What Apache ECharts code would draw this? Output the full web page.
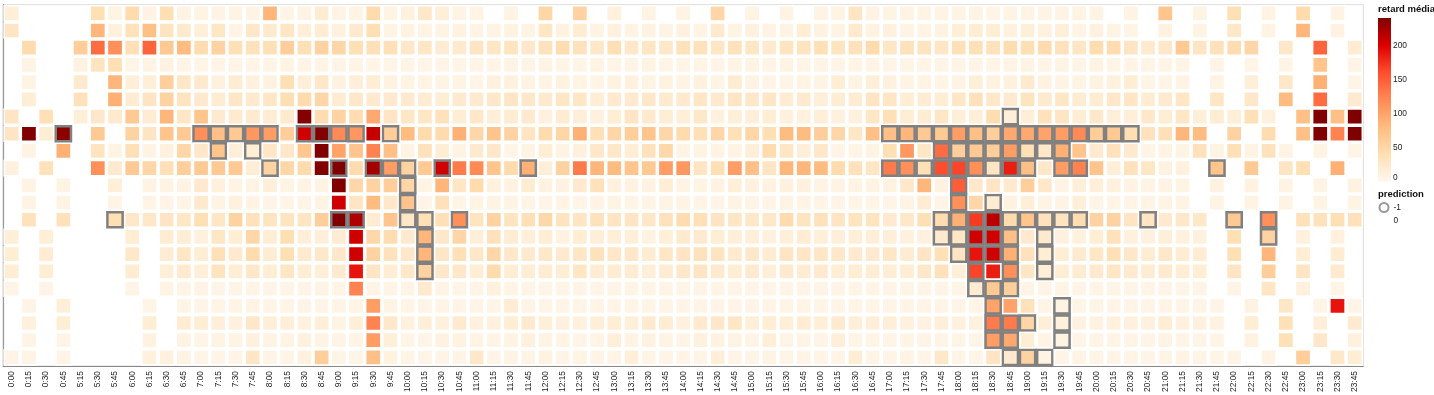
<!DOCTYPE html>
<html><head><meta charset="utf-8"><style>html,body{margin:0;padding:0;background:#fff}#c{width:1434px;height:395px}</style>
<script src="https://cdn.jsdelivr.net/npm/echarts@6/dist/echarts.min.js"></script></head>
<body><div id="c"></div>
<script>
const _ = null;
const timeLabels = ["0:00","0:15","0:30","0:45","5:15","5:30","5:45","6:00","6:15","6:30","6:45","7:00","7:15","7:30","7:45","8:00","8:15","8:30","8:45","9:00","9:15","9:30","9:45","10:00","10:15","10:30","10:45","11:00","11:15","11:30","11:45","12:00","12:15","12:30","12:45","13:00","13:15","13:30","13:45","14:00","14:15","14:30","14:45","15:00","15:15","15:30","15:45","16:00","16:15","16:30","16:45","17:00","17:15","17:30","17:45","18:00","18:15","18:30","18:45","19:00","19:15","19:30","19:45","20:00","20:15","20:30","20:45","21:00","21:15","21:30","21:45","22:00","22:15","22:30","22:45","23:00","23:15","23:30","23:45"];
const legendTicks = [0,50,100,150,200,240];
const predictionLevels = ["-1","0"];
const scaleColors = ['#fff8ef','#ffdfb4','#ffbc80','#ff8a55','#ff4e2e','#dd0000','#800000'];
const row0 = [15,_,_,_,_,40,8,45,8,40, 8,8,8,8,8,85,6,8,20,8, 8,45,8,12,25,15,8,8,_,8, _,50,_,55,_,12,_,8,_,8, _,50,_,8,_,8,_,8,8,30, 8,8,8,8,8,8,8,6,8,8, 8,8,8,8,_,8,_,70,_,8, _,40,_,8,_,45,_,8,_];
const row1 = [30,_,_,_,_,85,12,35,75,32, 22,15,28,8,25,22,28,15,20,12, 22,40,8,10,8,8,10,8,8,10, 8,28,10,20,8,12,8,10,8,12, 8,22,8,12,8,8,18,10,8,22, 10,12,8,8,10,15,18,18,12,15, 12,15,8,12,8,6,_,10,_,8, _,25,_,8,_,85,_,10,_];
const row2 = [_,45,_,_,60,140,115,38,145,65, 80,42,55,38,35,38,60,38,55,50, 40,38,38,25,28,20,22,30,28,32, 25,35,42,35,25,40,25,28,25,35, 35,28,35,28,22,32,32,38,32,35, 45,28,35,32,28,38,38,35,42,40, 45,35,28,42,42,30,22,25,65,30, 35,42,50,_,25,_,145,_,20];
const row3 = [_,8,_,_,10,32,40,6,8,10, 6,6,6,6,6,6,8,6,6,6, 6,6,6,6,6,6,6,6,6,8, 6,8,6,6,8,6,6,8,6,6, 6,6,6,8,6,8,6,6,6,6, 6,6,6,6,6,6,6,6,8,8, 6,8,6,8,6,6,6,6,6,_, 6,_,6,_,6,_,70,_,6];
const row4 = [_,8,_,_,22,_,85,15,15,60, 28,22,12,20,12,10,40,15,25,10, 15,18,10,8,8,8,8,6,12,12, 8,8,10,8,6,10,12,8,10,8, 12,8,20,8,6,6,8,8,18,8, 15,12,8,8,6,8,15,10,12,22, 10,8,8,10,12,18,6,6,8,_, 8,_,15,_,25,_,90,_,6];
const row5 = [_,18,_,_,35,_,90,20,30,55, 32,22,20,28,22,28,40,45,50,20, 25,22,22,22,20,18,22,22,25,30, 25,22,28,28,18,22,22,25,22,22, 28,22,30,25,28,20,22,15,20,20, 30,28,18,20,18,28,35,25,22,32, 22,28,20,20,25,28,20,22,28,_, 28,_,25,_,80,_,140,_,22];
const row6 = [30,_,38,_,15,25,22,65,20,85, 28,70,22,22,22,20,22,238,42,55, 42,95,30,28,28,35,18,25,15,20, 22,12,20,15,12,18,30,22,18,15, 25,12,15,15,18,12,12,15,12,12, 28,38,18,20,28,15,15,42,15,15, 35,30,18,25,15,15,25,18,28,15, 20,15,38,12,_,75,240,75,240];
const row7 = [30,240,18,235,_,65,_,55,30,70, 65,115,75,65,110,105,60,205,240,120, 110,210,60,80,45,45,90,50,70,55, 30,45,50,90,38,50,60,70,50,45, 38,50,38,50,40,80,80,60,50,28, 75,75,85,65,65,105,75,60,95,95, 100,105,120,60,65,40,35,38,85,80, _,55,_,42,_,75,240,125,240];
const row8 = [_,8,_,90,_,32,8,38,8,12, 50,25,70,15,18,28,25,68,240,100, 70,125,75,8,35,18,8,22,25,6, 8,18,8,12,25,25,18,35,48,8, 8,8,8,15,45,28,15,25,6,6, 8,40,110,28,140,60,65,60,105,38, 25,90,70,22,35,22,6,8,8,35, 8,38,8,35,8,_,8,_,6];
const row9 = [12,_,35,_,_,115,22,65,50,38, 60,65,65,65,18,55,50,45,240,240, 45,225,105,55,65,205,130,120,70,45, 90,15,55,130,85,80,70,65,105,110, 30,40,105,75,30,85,85,80,45,35, 28,130,115,40,160,165,115,30,185,75, 25,105,125,70,15,35,28,10,12,_, 70,_,65,_,30,40,_,90,_];
const row10 = [_,8,_,8,_,_,15,_,8,8, 8,22,12,8,8,15,8,8,8,240, 50,55,60,50,8,85,28,45,12,10, 20,10,10,22,35,12,10,10,18,8, 8,10,15,12,10,12,12,8,8,8, 8,10,25,85,10,150,25,30,22,60, 25,8,15,15,12,8,8,8,8,_, 10,_,10,_,8,_,8,_,10];
const row11 = [_,8,_,8,_,_,6,_,6,6, 6,22,8,12,8,6,6,6,8,205, 30,80,25,70,6,35,6,8,8,8, 6,6,8,6,8,8,6,6,8,8, 6,6,8,6,6,8,8,6,6,6, 6,6,8,20,6,115,50,20,10,15, 8,8,15,6,6,6,8,8,8,_, 8,_,8,_,8,_,8,_,8];
const row12 = [_,35,_,35,_,_,40,25,25,30, 28,40,28,55,35,32,32,30,60,240, 220,20,70,28,38,38,115,32,55,32, 38,48,32,30,35,30,30,25,35,42, 38,30,28,25,25,45,32,35,30,32, 32,22,25,40,42,90,170,215,45,70, 35,32,42,55,55,30,30,22,25,25, _,65,_,115,_,35,35,40,35];
const row13 = [15,_,15,_,_,_,_,18,_,20, 18,12,28,18,50,18,40,15,15,20, 205,48,42,22,85,25,50,15,35,20, 15,18,10,18,15,15,15,10,15,22, 22,18,15,15,12,15,20,15,15,15, 15,15,12,12,22,28,205,205,75,22, 22,12,12,18,35,12,12,15,12,12, _,40,_,55,_,12,_,12,_];
const row14 = [18,_,20,_,_,_,_,25,_,20, 28,18,38,22,45,20,40,22,25,25, 205,55,35,25,85,28,38,25,50,25, 22,25,22,28,35,25,25,20,28,30, 35,32,22,25,20,30,28,28,25,22, 22,28,20,30,38,30,190,205,90,35, 18,18,22,28,38,25,20,25,20,20, _,40,_,85,_,18,_,20,_];
const row15 = [18,_,18,_,_,_,_,20,_,15, 22,15,32,18,25,18,28,18,15,22, 190,30,18,25,55,25,25,18,45,18, 18,20,18,28,20,20,20,15,20,25, 30,22,18,22,15,22,20,22,18,18, 18,18,18,25,35,15,165,185,115,28, 15,18,20,22,28,22,20,22,18,18, _,30,_,60,_,30,_,22,_];
const row16 = [6,_,6,_,_,_,_,6,_,8, 6,6,6,6,6,6,6,6,8,6, 125,6,6,6,22,6,6,6,12,6, 6,6,6,6,6,6,6,6,6,6, 6,6,6,6,6,6,6,6,6,6, 6,6,6,6,6,6,20,65,60,6, 6,6,6,6,6,6,6,6,6,6, _,6,_,28,_,12,_,6,_];
const row17 = [_,6,_,15,_,_,_,_,6,_, 6,6,6,6,8,6,6,6,6,6, 6,105,8,6,6,6,6,6,6,20, 6,6,6,6,6,6,6,6,6,6, 6,6,6,6,6,6,6,6,6,6, 6,6,6,6,6,6,6,100,100,35, 6,8,6,6,6,6,6,6,6,6, 6,_,10,_,28,_,6,190,6];
const row18 = [_,12,_,18,_,_,_,_,18,_, 20,18,15,12,25,15,15,12,15,8, 15,125,25,12,15,12,22,12,12,18, 22,15,12,12,15,18,15,22,20,12, 22,25,28,15,18,15,20,15,22,15, 15,15,12,10,15,12,12,130,130,50, 15,12,10,10,12,12,12,18,12,12, 10,_,18,_,38,_,15,_,22];
const row19 = [_,6,_,6,_,_,_,_,10,_, 8,6,8,8,12,8,8,12,8,6, 6,105,15,6,6,10,10,8,6,8, 12,8,8,6,6,15,8,10,8,6, 12,10,8,6,15,6,6,6,15,6, 6,6,6,6,6,6,6,105,95,18, 6,8,6,6,6,6,6,8,6,6, 6,_,10,_,38,_,25,_,12];
const row20 = [6,6,_,6,_,_,_,_,12,12, 8,6,6,6,28,6,6,12,60,6, 6,75,10,6,6,6,6,25,6,8, 6,10,6,8,6,6,15,6,6,6, 6,15,6,6,8,6,6,6,6,18, 6,6,8,6,25,6,6,30,22,55, 8,6,8,6,6,6,6,6,8,6, 6,6,_,8,_,60,_,25,18];
// columns whose prediction is -1, per row
const pred6 = [58];
const pred7 = [3,11,12,13,14,15,17,18,19,20,22,51,52,53,54,55,56,57,58,59,60,61,62,63,64,65];
const pred8 = [12,14,54,55,56,57,58,59,60,61];
const pred9 = [15,19,21,22,23,25,30,51,52,53,54,55,56,57,58,59,61,62,70];
const pred10 = [23,55];
const pred11 = [23,55,57];
const pred12 = [6,19,20,23,24,26,54,55,56,57,58,59,60,61,62,66,71,73];
const pred13 = [24,54,55,56,57,58,60,73];
const pred14 = [24,55,56,57,58,60];
const pred15 = [24,56,58,60];
const pred16 = [56,57,58];
const pred17 = [57,61];
const pred18 = [57,58,59,61];
const pred19 = [57,58,61];
const pred20 = [58,59,60];

const rows = [row0,row1,row2,row3,row4,row5,row6,row7,row8,row9,row10,row11,row12,row13,row14,row15,row16,row17,row18,row19,row20];
const preds = {6:pred6,7:pred7,8:pred8,9:pred9,10:pred10,11:pred11,12:pred12,13:pred13,14:pred14,15:pred15,16:pred16,17:pred17,18:pred18,19:pred19,20:pred20};
const rowIds = rows.map((r,i)=>String(i));
const isFlagged = (x,y)=>(preds[y]||[]).includes(x);
const normal = [], flagged = [], enclosed = [];
rows.forEach((r,y)=>r.forEach((v,x)=>{
  if (v===null) return;
  if (isFlagged(x,y)) { flagged.push([x,y,v,-1]); return; }
  const around = [[x-1,y],[x+1,y],[x,y-1],[x,y+1]].filter(p=>isFlagged(p[0],p[1])).length;
  (around>=2?enclosed:normal).push([x,y,v,0]);
}));
const font = '"Liberation Sans", Arial, sans-serif';
const topValue = legendTicks[legendTicks.length-1];
const gradientStops = scaleColors.map((c,i)=>({offset:1-i/(scaleColors.length-1),color:c}));
const chart = echarts.init(document.getElementById('c'),null,{renderer:'canvas'});
chart.setOption({
  animation:false,
  backgroundColor:'#fff',
  title:[
    {text:'retard médian',left:1378,top:4,padding:0,textStyle:{fontFamily:font,fontSize:9.5,fontWeight:'bold',color:'#111'}},
    {text:'prediction',left:1378,top:189,padding:0,textStyle:{fontFamily:font,fontSize:9.5,fontWeight:'bold',color:'#111'}}
  ],
  grid:[
    {left:3.1,top:4.7,width:1360.2,height:361.3,show:true,borderColor:'#ddd',borderWidth:1,backgroundColor:'transparent'},
    {left:1378,top:18,width:13,height:163.7,show:false}
  ],
  xAxis:[
    {type:'category',gridIndex:0,data:timeLabels,position:'bottom',
     axisLine:{lineStyle:{color:'#888',width:1.2}},axisTick:{alignWithLabel:true,length:4,lineStyle:{color:'#888'}},
     axisLabel:{rotate:90,interval:0,fontSize:8.4,fontFamily:font,color:'#222',margin:5},splitLine:{show:false}},
    {type:'category',gridIndex:1,show:false,data:['retard médian']}
  ],
  yAxis:[
    {type:'category',gridIndex:0,data:rowIds,inverse:true,
     axisLine:{lineStyle:{color:'#999',width:1.2}},axisTick:{alignWithLabel:true,length:3,lineStyle:{color:'#888'}},
     axisLabel:{show:false},splitLine:{show:false}},
    {type:'value',gridIndex:1,position:'right',min:legendTicks[0],max:topValue,interval:50,
     axisLine:{show:false},axisTick:{show:false},splitLine:{show:false},
     axisLabel:{fontSize:8.4,fontFamily:font,color:'#222',margin:2,showMaxLabel:false,verticalAlignMinLabel:'bottom'}}
  ],
  visualMap:{type:'continuous',show:false,seriesIndex:0,dimension:2,min:legendTicks[0],max:topValue,
    inRange:{color:scaleColors}},
  legend:{orient:'vertical',left:1378.5,top:202,padding:0,itemWidth:9,itemHeight:9,itemGap:2,icon:'circle',selectedMode:false,
    data:predictionLevels,textStyle:{fontFamily:font,fontSize:8.4,color:'#222'}},
  series:[
    {type:'custom',coordinateSystem:'cartesian2d',xAxisIndex:0,yAxisIndex:0,clip:false,
     dimensions:['x','y','retard','prediction'],encode:{x:0,y:1},
     data:normal.concat(flagged,enclosed),
     renderItem(params,api){
       const c = api.coord([api.value(0),api.value(1)]);
       const s = api.size([1,1]);
       const w = s[0]-2, h = s[1]-2;
       const hl = api.value(3)===-1;
       return {type:'rect',shape:{x:c[0]-w/2,y:c[1]-h/2,width:w,height:h},
         style:{fill:api.visual('color'),stroke:hl?'#808080':'#fff',lineWidth:hl?2.5:1.5}};
     }},
    {type:'scatter',name:predictionLevels[0],xAxisIndex:0,yAxisIndex:0,data:[],
     itemStyle:{color:'#fff',borderColor:'#808080',borderWidth:1}},
    {type:'scatter',name:predictionLevels[1],xAxisIndex:0,yAxisIndex:0,data:[],
     itemStyle:{color:'#fff',borderColor:'#fff',borderWidth:1}},
    {type:'bar',xAxisIndex:1,yAxisIndex:1,barWidth:'100%',data:[topValue],silent:true,
     itemStyle:{color:new echarts.graphic.LinearGradient(0,0,0,1,gradientStops)}}
  ]
});
</script></body></html>
